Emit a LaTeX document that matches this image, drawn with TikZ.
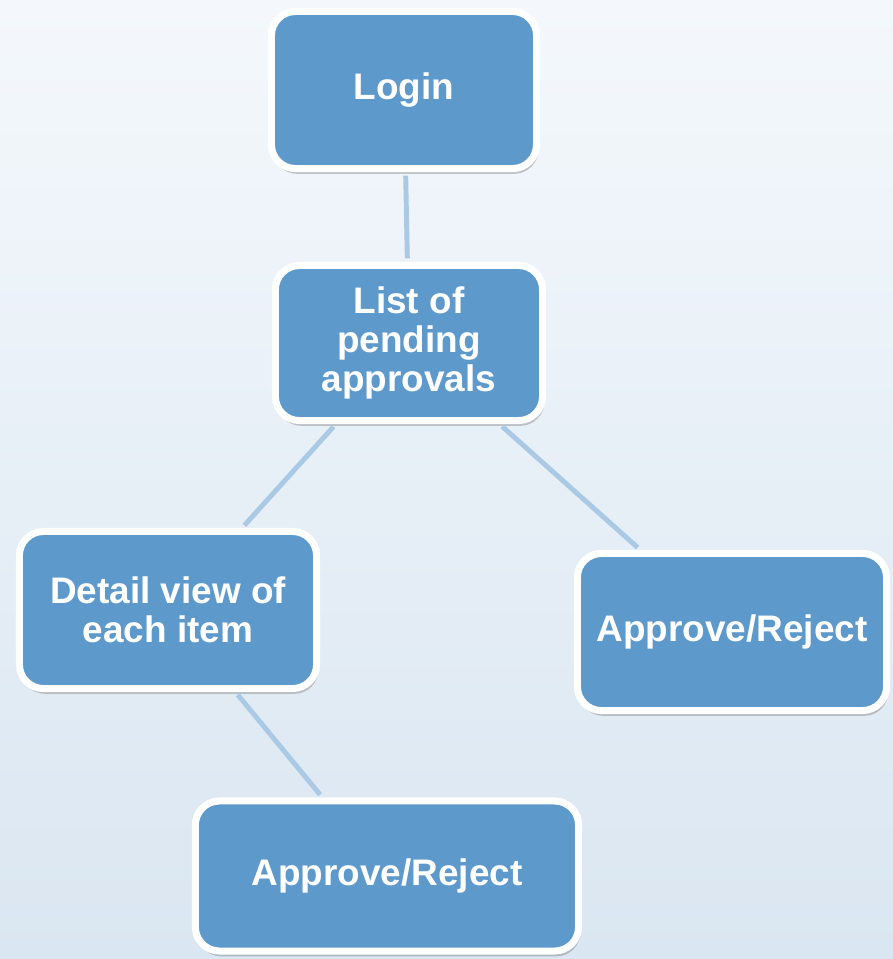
\documentclass[tikz,border=0pt]{standalone}
\usepackage{fontspec}
\setmainfont{Liberation Sans}
\usetikzlibrary{shadows}
\definecolor{boxblue}{HTML}{5E99CB}
\definecolor{linkblue}{HTML}{A9C9E5}
\definecolor{bgtop}{HTML}{F4F8FC}
\definecolor{bgbottom}{HTML}{DAE6F1}

\begin{document}
\begin{tikzpicture}[x=0.01cm,y=-0.01cm,
    stepbox/.style={draw=white,line width=2pt,fill=boxblue,rounded corners=0.24cm,
      text=white,font=\fontsize{10.5}{11.1}\selectfont\bfseries,align=center,inner sep=0pt,
      drop shadow={shadow xshift=0.5pt,shadow yshift=-1.5pt,opacity=0.35,fill=black!60}},
    link/.style={draw=linkblue,line width=1.4pt}]
        % the background
        \shade[top color=bgtop,bottom color=bgbottom] (0,0) rectangle (893,959);
        \useasboundingbox (0,0) rectangle (893,959);
        % the boxes
        \node[stepbox,minimum width=2.65cm,minimum height=1.57cm] (login) at (404,90) {Login};
        \node[stepbox,minimum width=2.67cm,minimum height=1.55cm] (pending) at (409,343) {List of\\pending\\approvals};
        \node[stepbox,minimum width=2.97cm,minimum height=1.57cm] (detail) at (168,610) {Detail view of\\each item};
        \node[stepbox,minimum width=3.09cm,minimum height=1.57cm] (decideA) at (732,632) {Approve/Reject};
        \node[stepbox,minimum width=3.83cm,minimum height=1.50cm] (decideB) at (387,876) {Approve/Reject};
        % the connectors
        \foreach \a/\b in {login/pending,pending/detail,pending/decideA,detail/decideB}
        {
          \draw[link,shorten <=1pt,shorten >=1pt] (\a) -- (\b);
        }
    \end{tikzpicture}
\end{document}
